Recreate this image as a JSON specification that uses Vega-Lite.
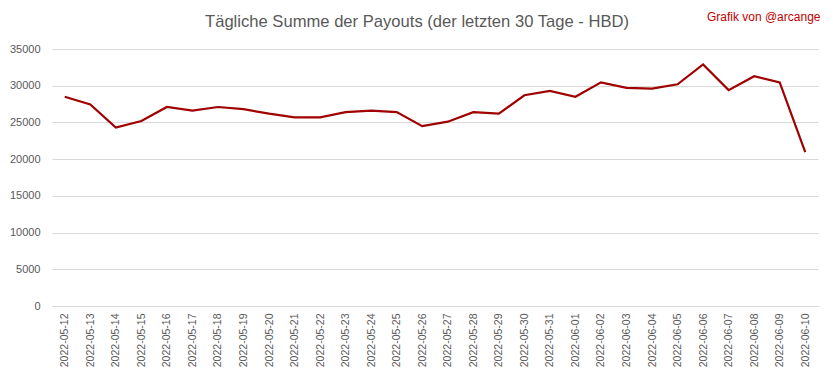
{
  "$schema": "https://vega.github.io/schema/vega-lite/v6.json",
  "autosize": {"type": "none"},
  "width": 766,
  "height": 257,
  "padding": {"left": 52, "top": 49, "right": 15, "bottom": 73},
  "background": "white",
  "title": {
    "text": "Tägliche Summe der Payouts (der letzten 30 Tage - HBD)",
    "anchor": "middle",
    "frame": "group",
    "dx": -18,
    "dy": 40,
    "offset": 19,
    "font": "Liberation Sans",
    "fontSize": 16.6,
    "fontWeight": "normal",
    "color": "#595959"
  },
  "config": {
    "view": {"stroke": null},
    "font": "Liberation Sans"
  },
  "data": {
    "values": [
      {"date": "2022-05-12", "value": 28500},
      {"date": "2022-05-13", "value": 27450},
      {"date": "2022-05-14", "value": 24300},
      {"date": "2022-05-15", "value": 25200},
      {"date": "2022-05-16", "value": 27100},
      {"date": "2022-05-17", "value": 26600},
      {"date": "2022-05-18", "value": 27100},
      {"date": "2022-05-19", "value": 26800},
      {"date": "2022-05-20", "value": 26200},
      {"date": "2022-05-21", "value": 25700},
      {"date": "2022-05-22", "value": 25700},
      {"date": "2022-05-23", "value": 26400},
      {"date": "2022-05-24", "value": 26600},
      {"date": "2022-05-25", "value": 26400},
      {"date": "2022-05-26", "value": 24500},
      {"date": "2022-05-27", "value": 25100},
      {"date": "2022-05-28", "value": 26400},
      {"date": "2022-05-29", "value": 26200},
      {"date": "2022-05-30", "value": 28700},
      {"date": "2022-05-31", "value": 29300},
      {"date": "2022-06-01", "value": 28500},
      {"date": "2022-06-02", "value": 30450},
      {"date": "2022-06-03", "value": 29700},
      {"date": "2022-06-04", "value": 29600},
      {"date": "2022-06-05", "value": 30200},
      {"date": "2022-06-06", "value": 32900},
      {"date": "2022-06-07", "value": 29400},
      {"date": "2022-06-08", "value": 31300},
      {"date": "2022-06-09", "value": 30450},
      {"date": "2022-06-10", "value": 20950}
    ]
  },
  "encoding": {
    "y": {
      "field": "value",
      "type": "quantitative",
      "scale": {"domain": [0, 35000], "nice": false},
      "axis": {
        "title": null,
        "values": [0, 5000, 10000, 15000, 20000, 25000, 30000, 35000],
        "format": "d",
        "domain": false,
        "ticks": false,
        "labelPadding": 12,
        "labelFontSize": 11,
        "labelColor": "#595959",
        "gridColor": "#d9d9d9",
        "gridWidth": 1
      }
    }
  },
  "layer": [
    {
      "mark": {"type": "line", "color": "#a00000", "strokeWidth": 2.2},
      "encoding": {
        "x": {
          "field": "date",
          "type": "ordinal",
          "scale": {"type": "point", "padding": 0.5},
          "axis": {
            "title": null,
            "labelAngle": -90,
            "labelAlign": "right",
            "labelBaseline": "middle",
            "labelPadding": 7,
            "labelFontSize": 10.5,
            "labelColor": "#595959",
            "ticks": false,
            "domain": true,
            "domainColor": "#d9d9d9",
            "grid": false
          }
        }
      }
    },
    {
      "mark": {"type": "line", "strokeOpacity": 0},
      "encoding": {
        "x": {
          "field": "date",
          "type": "ordinal",
          "scale": {"type": "point", "padding": 0.5},
          "axis": {
            "orient": "top",
            "title": "Grafik von @arcange",
            "titleColor": "#c00000",
            "titleFontSize": 12,
            "titleFontWeight": "normal",
            "titleAnchor": "end",
            "titleAlign": "right",
            "titleBaseline": "alphabetic",
            "titleX": 768,
            "titleY": -29,
            "labels": false,
            "ticks": false,
            "domain": false,
            "grid": false
          }
        }
      }
    }
  ],
  "resolve": {"axis": {"x": "independent"}}
}
